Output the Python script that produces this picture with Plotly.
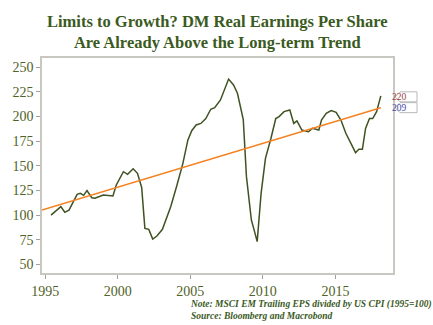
import plotly.graph_objects as go

years = [1995.40, 1996.08, 1996.35, 1996.64, 1997.20, 1997.42, 1997.65, 1997.88, 1998.21, 1998.43,
         1999.00, 1999.67, 1999.90, 2000.39, 2000.68, 2001.06, 2001.36, 2001.65, 2001.87, 2002.14,
         2002.41, 2002.70, 2003.08, 2003.38, 2003.65, 2004.05, 2004.49, 2004.83, 2005.10, 2005.40,
         2005.73, 2006.07, 2006.41, 2006.68, 2007.08, 2007.64, 2007.98, 2008.25, 2008.65, 2008.87,
         2009.21, 2009.37, 2009.61, 2009.88, 2010.18, 2010.56, 2010.89, 2011.12, 2011.46, 2011.86,
         2012.13, 2012.35, 2012.69, 2013.14, 2013.41, 2013.86, 2014.04, 2014.37, 2014.71, 2015.05,
         2015.38, 2015.72, 2016.39, 2016.62, 2016.86, 2017.08, 2017.35, 2017.57, 2017.84, 2018.13]
eps = [100, 108.5, 102.8, 105, 121, 122, 120, 124.8, 117.6, 117,
       120.4, 119.4, 130.5, 144, 141.4, 147, 142.4, 128, 86.5, 85.5,
       75.7, 78.7, 85.5, 98, 108.5, 128.8, 152.5, 176, 185.6, 191.4,
       193, 198, 207.4, 209, 216.8, 238, 232, 223.6, 197, 139,
       95, 86.5, 73, 122, 157.6, 178, 198, 200, 205, 206.6,
       193, 195.5, 186.3, 184.6, 188, 186.3, 196.5, 203.3, 206, 204.3,
       196.5, 183, 163.3, 166.8, 166.8, 188, 198, 198, 205, 221]
trend_years = [1994.78, 2018.13]
trend_vals = [105, 209]
last_labels = [("220", 220, "#a03c3c"), ("209", 209, "#4646a8")]

tick_vals_x = [1995, 2000, 2005, 2010, 2015]
tick_vals_y = [50, 75, 100, 125, 150, 175, 200, 225, 250]

green = "#4f6228"
title_col = "#3a5a1e"
font_serif = "Liberation Serif"

fig = go.Figure()
fig.add_trace(go.Scatter(x=years, y=eps, mode="lines",
                         line=dict(color="#3f5221", width=1.5), hoverinfo="skip"))
fig.add_trace(go.Scatter(x=trend_years, y=trend_vals, mode="lines",
                         line=dict(color="#f58220", width=1.5), hoverinfo="skip"))

shapes = []
annotations = []
for txt, val, col in last_labels:
    shapes.append(dict(type="path", xref="paper", yref="y", xsizemode="pixel", ysizemode="pixel",
                       xanchor=1, yanchor=val,
                       path="M 2 0 L 7 5 L 24 5 L 24 -5 L 7 -5 Z",
                       line=dict(color="#b8b8b8", width=1), fillcolor="white", layer="above"))
    annotations.append(dict(xref="paper", yref="y", x=1, y=val, xshift=16, text=txt,
                            showarrow=False, font=dict(family=font_serif, size=9.5, color=col)))

annotations.append(dict(xref="paper", yref="paper", x=0.5, y=1, yshift=4, xanchor="center", yanchor="bottom",
                        text="<b>Limits to Growth? DM Real Earnings Per Share<br>Are Already Above the Long-term Trend</b>",
                        showarrow=False, align="center",
                        font=dict(family=font_serif, size=16.5, color=title_col)))
annotations.append(dict(xref="paper", yref="paper", x=0, y=0, xshift=146, yshift=-24, xanchor="left", yanchor="top",
                        text="<b><i>Note: MSCI EM Trailing EPS divided by US CPI (1995=100)<br>Source: Bloomberg and Macrobond</i></b>",
                        showarrow=False, align="left",
                        font=dict(family=font_serif, size=9.5, color=title_col)))

fig.update_layout(
    width=433, height=325,
    margin=dict(l=34, r=40, t=58, b=52),
    paper_bgcolor="white", plot_bgcolor="white",
    showlegend=False,
    shapes=shapes, annotations=annotations,
    xaxis=dict(range=[1994.78, 2018.97], tickvals=tick_vals_x, showgrid=False, zeroline=False,
               showline=True, linecolor="#c8c8c0", linewidth=1.5, mirror=True,
               ticks="outside", ticklen=4, tickcolor="#a0a0a0",
               tickfont=dict(family=font_serif, size=14, color=green)),
    yaxis=dict(range=[41.2, 259.4], tickvals=tick_vals_y, showgrid=False, zeroline=False,
               showline=True, linecolor="#c8c8c0", linewidth=1.5, mirror=True,
               ticks="outside", ticklen=4, tickcolor="#a0a0a0",
               tickfont=dict(family=font_serif, size=14, color=green)),
)
fig.write_html("out.html")
